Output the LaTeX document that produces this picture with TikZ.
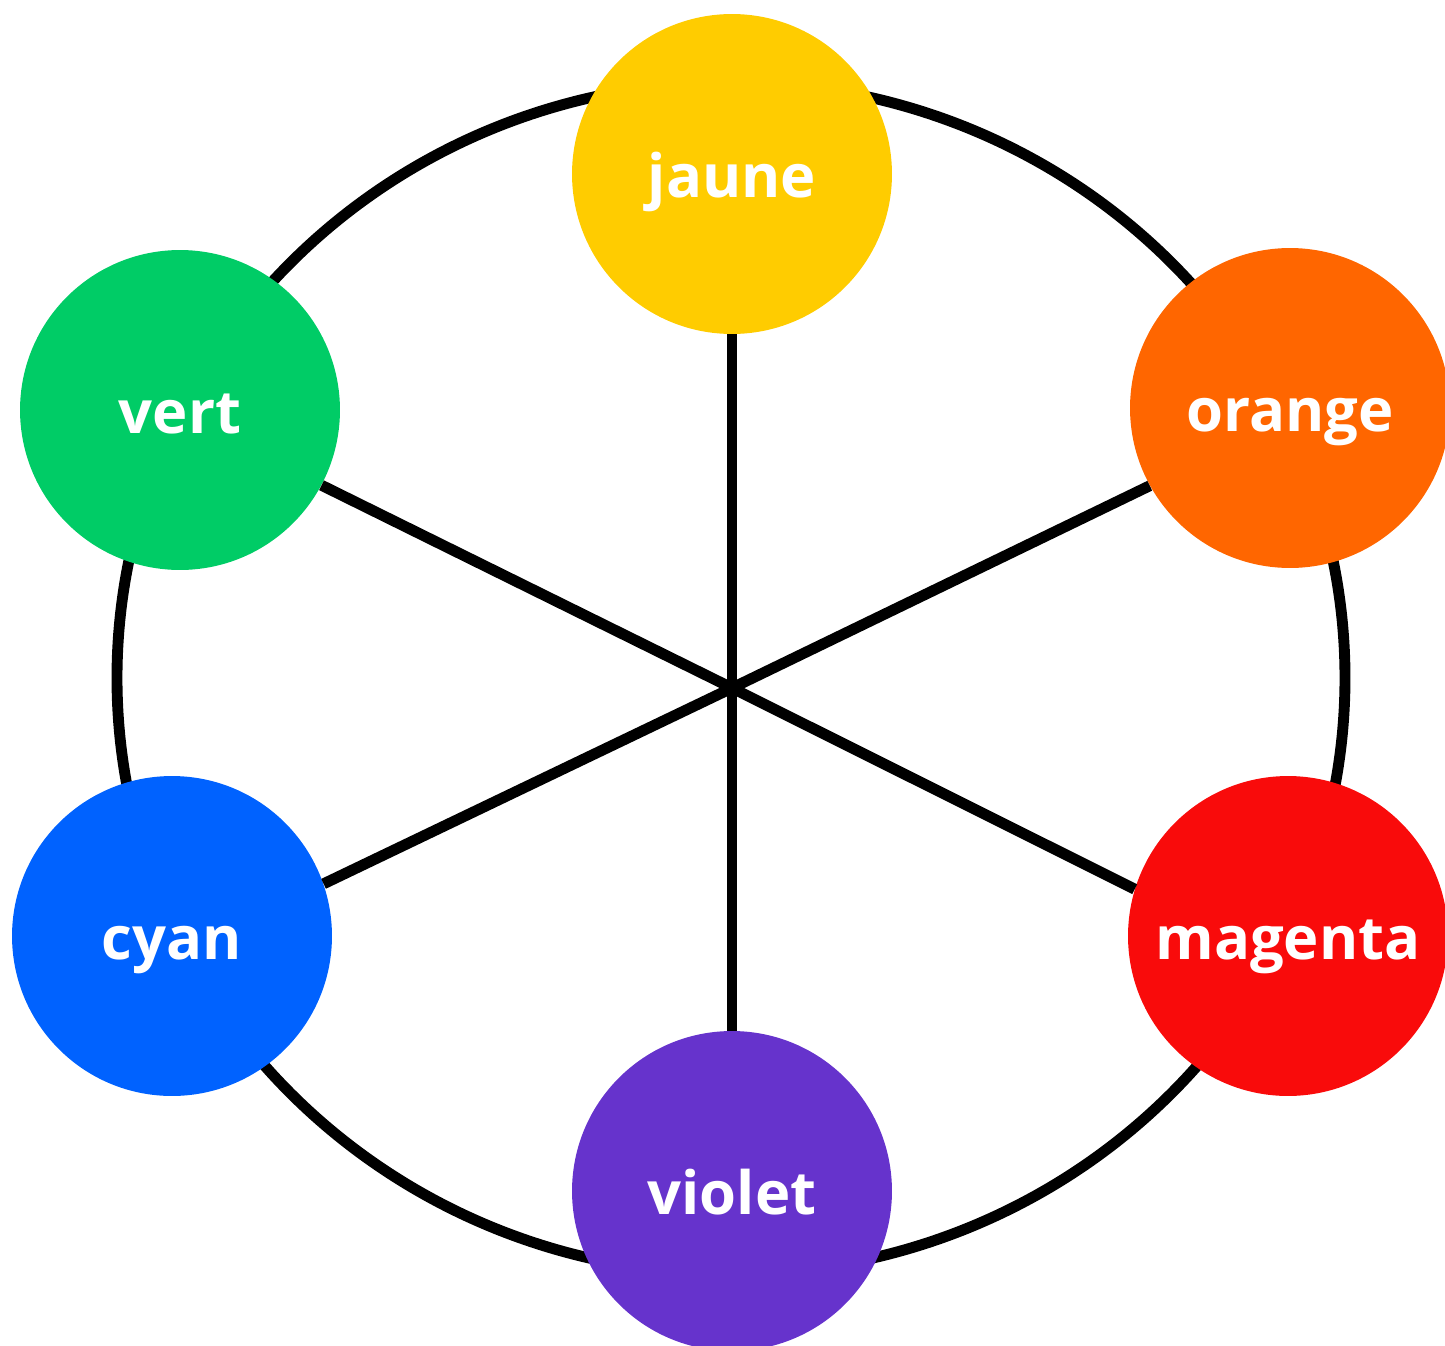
\documentclass[tikz,border=0pt]{standalone}
\usepackage{fontspec}
\setmainfont{Open Sans}
\usetikzlibrary{positioning}
\definecolor{cjaune}{HTML}{FFCC00}
\definecolor{corange}{HTML}{FF6600}
\definecolor{cmagenta}{HTML}{F90B0B}
\definecolor{cviolet}{HTML}{6633CC}
\definecolor{ccyan}{HTML}{0062FF}
\definecolor{cvert}{HTML}{00CC66}
\begin{document}
\begin{tikzpicture}[x=0.02cm, y=-0.02cm,
    colour/.style={circle, minimum size=6.4cm, inner sep=0pt, text=white,
      text height=30pt, text depth=2.8pt, font=\fontsize{34}{34}\selectfont\bfseries},
    spoke/.style={line width=6.2pt}]
    \useasboundingbox (0,0) rectangle (1445,1346);
    % Ring
    \draw[line width=6.2pt] (731,678) ellipse [x radius=614, y radius=596];
    
    % Colour nodes
    \node[colour, fill=cjaune] (jaune) at (732,174) {jaune};
    \node[colour, fill=corange] (orange) at (1290,408) {orange};
    \node[colour, fill=cmagenta] (magenta) at (1288,936) {magenta};
    \node[colour, fill=cviolet] (violet) at (732,1191) {violet};
    \node[colour, fill=ccyan] (cyan) at (172,936) {cyan};
    \node[colour, fill=cvert] (vert) at (180,410) {vert};
    
    % Spokes
    \coordinate (hub) at (732,688);
    \draw[spoke] (hub) -- (jaune);
    \draw[spoke] (hub) -- (violet);
    \draw[spoke] (hub) -- (vert.-28);
    \draw[spoke] (hub) -- (orange.209);
    \draw[spoke] (hub) -- (cyan.19);
    \draw[spoke] (hub) -- (magenta.163);
\end{tikzpicture}
\end{document}
